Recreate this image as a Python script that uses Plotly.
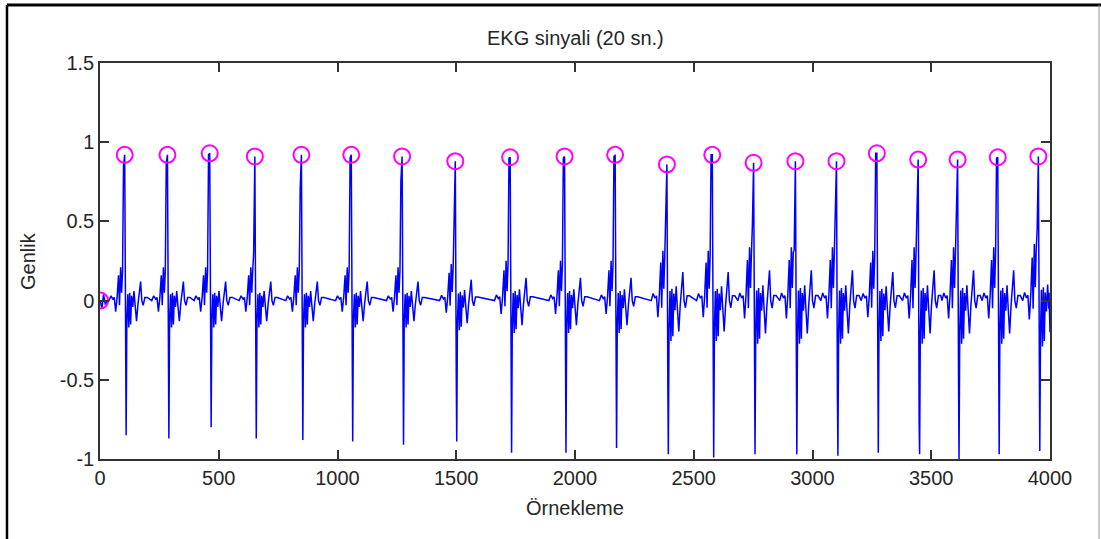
import numpy as np
import plotly.graph_objects as go

# R-peak sample indices and amplitudes (first entry is the detector's start point)
peak_idx = [1, 104, 284, 462, 652, 848, 1058, 1272, 1496, 1727, 1956, 2169,
            2387, 2578, 2752, 2928, 3101, 3271, 3445, 3611, 3780, 3951]
peak_val = [0.0, 0.92, 0.92, 0.93, 0.91, 0.92, 0.92, 0.91, 0.88, 0.905, 0.91, 0.92,
            0.86, 0.92, 0.87, 0.88, 0.88, 0.93, 0.89, 0.89, 0.905, 0.91]

# Per-beat QRS details: upstroke sample, downstroke sample, S-wave minimum
up_mid = [0.85, 0.87, 0.92, 0.30, 0.71, 0.90, 0.76, 0.45, 0.90, 0.90, 0.91,
          0.54, 0.92, 0.48, 0.32, 0.54, 0.93, 0.56, 0.52, 0.90, 0.45]
down_mid = [-0.70, -0.85, -0.80, -0.30, -0.85, -0.85, -0.68, -0.46, -0.95, -0.95, -0.92,
            -0.55, -0.98, -0.53, -0.48, -0.61, -0.95, -0.77, -0.52, -0.96, -0.33]
s_val = [-0.85, -0.87, -0.80, -0.87, -0.88, -0.89, -0.91, -0.89, -0.96, -0.96, -0.93,
         -0.97, -0.99, -0.97, -0.97, -0.98, -0.96, -0.97, -1.00, -0.97, -0.95]
# Amplitude of the small waves around each QRS complex
wave_gain = [1.0, 1.0, 1.0, 1.0, 1.0, 1.0, 1.0, 1.1, 1.2, 1.2, 1.2,
             1.5, 1.5, 1.6, 1.6, 1.6, 1.5, 1.6, 1.6, 1.6, 1.7]

# Beat shape around the R peak (sample offsets and amplitudes)
pre_off = [-66, -58, -50, -44, -38, -32, -26, -22, -17, -13, -9]
pre_val = [0.0, 0.03, 0.01, 0.02, -0.07, 0.02, 0.16, -0.03, 0.21, 0.05, 0.19]
post_off = [9, 13, 17, 21, 25, 29, 34, 39, 44, 50, 56, 62, 67, 72, 78, 85, 95]
post_val = [-0.12, 0.04, -0.17, 0.05, -0.15, 0.03, -0.04, 0.06, -0.03, -0.13,
            -0.02, 0.06, 0.12, 0.0, -0.03, 0.02, 0.02]

# Signal start and end segments
lead_x = [1, 8, 15, 22]
lead_y = [0.0, -0.05, 0.04, -0.02]
tail_x = [3996, 4000]
tail_y = [0.05, -0.2]

x_ticks = [0, 500, 1000, 1500, 2000, 2500, 3000, 3500, 4000]
x_ticktext = ["0", "500", "1000", "1500", "2000", "2500", "3000", "3500", "4000"]
y_ticks = [-1, -0.5, 0, 0.5, 1, 1.5]
y_ticktext = ["-1", "-0.5", "0", "0.5", "1", "1.5"]

# Assemble the signal from the beat shape placed at each R peak
sig_x = list(lead_x)
sig_y = list(lead_y)
for i, r in enumerate(peak_idx[1:]):
    g = wave_gain[i]
    xs = [r + o for o in pre_off] + [r - 5, r, r + 4, r + 6] + [r + o for o in post_off]
    ys = ([v * g for v in pre_val] + [up_mid[i], peak_val[i + 1], down_mid[i], s_val[i]]
          + [v * g for v in post_val])
    for xx, yy in zip(xs, ys):
        if xx < tail_x[0]:
            sig_x.append(xx)
            sig_y.append(yy)
sig_x += tail_x
sig_y += tail_y

fig = go.Figure()
fig.add_trace(go.Scatter(
    x=sig_x, y=sig_y, mode="lines",
    line=dict(color="#0000ff", width=1.5),
    hoverinfo="skip", showlegend=False,
))
fig.add_trace(go.Scatter(
    x=peak_idx, y=peak_val, mode="markers",
    marker=dict(symbol="circle-open", size=16, color="#ff00ff",
                line=dict(color="#ff00ff", width=2)),
    showlegend=False,
))

axis_font = dict(family="Liberation Sans, Arial, sans-serif", size=20, color="#262626")

fig.update_layout(
    width=1101, height=539,
    margin=dict(l=100, r=51, t=63, b=80),
    paper_bgcolor="white", plot_bgcolor="white",
    font=axis_font,
    xaxis=dict(
        range=[0, 4000], tickvals=x_ticks, ticktext=x_ticktext,
        showgrid=False, zeroline=False, showline=True, linecolor="#333333", linewidth=1.5,
        mirror="ticks", ticks="inside", ticklen=9, tickcolor="#333333", tickwidth=1.5,
        tickfont=axis_font,
    ),
    yaxis=dict(
        range=[-1, 1.5], tickvals=y_ticks, ticktext=y_ticktext,
        showgrid=False, zeroline=False, showline=True, linecolor="#333333", linewidth=1.5,
        mirror="ticks", ticks="inside", ticklen=9, tickcolor="#333333", tickwidth=1.5,
        tickfont=axis_font,
    ),
    annotations=[
        dict(text="EKG sinyali (20 sn.)", x=0.5, y=1.0631, xref="paper", yref="paper",
             showarrow=False, font=axis_font, xanchor="center", yanchor="middle"),
        dict(text="Örnekleme", x=0.5, y=-0.1237, xref="paper", yref="paper",
             showarrow=False, font=axis_font, xanchor="center", yanchor="middle"),
        dict(text="Genlik", x=-0.0758, y=0.5, xref="paper", yref="paper", textangle=-90,
             showarrow=False, font=axis_font, xanchor="center", yanchor="middle"),
    ],
    shapes=[
        dict(type="line", xref="paper", yref="paper", x0=-0.0979, x1=1.06,
             y0=1.1465, y1=1.1465, line=dict(color="black", width=3)),
        dict(type="line", xref="paper", yref="paper", x0=-0.0979, x1=-0.0979,
             y0=-0.21, y1=1.1465, line=dict(color="black", width=2.5)),
        dict(type="line", xref="paper", yref="paper", x0=1.0516, x1=1.0516,
             y0=-0.21, y1=1.1465, line=dict(color="#999999", width=1)),
    ],
)

fig.write_html("out.html")
